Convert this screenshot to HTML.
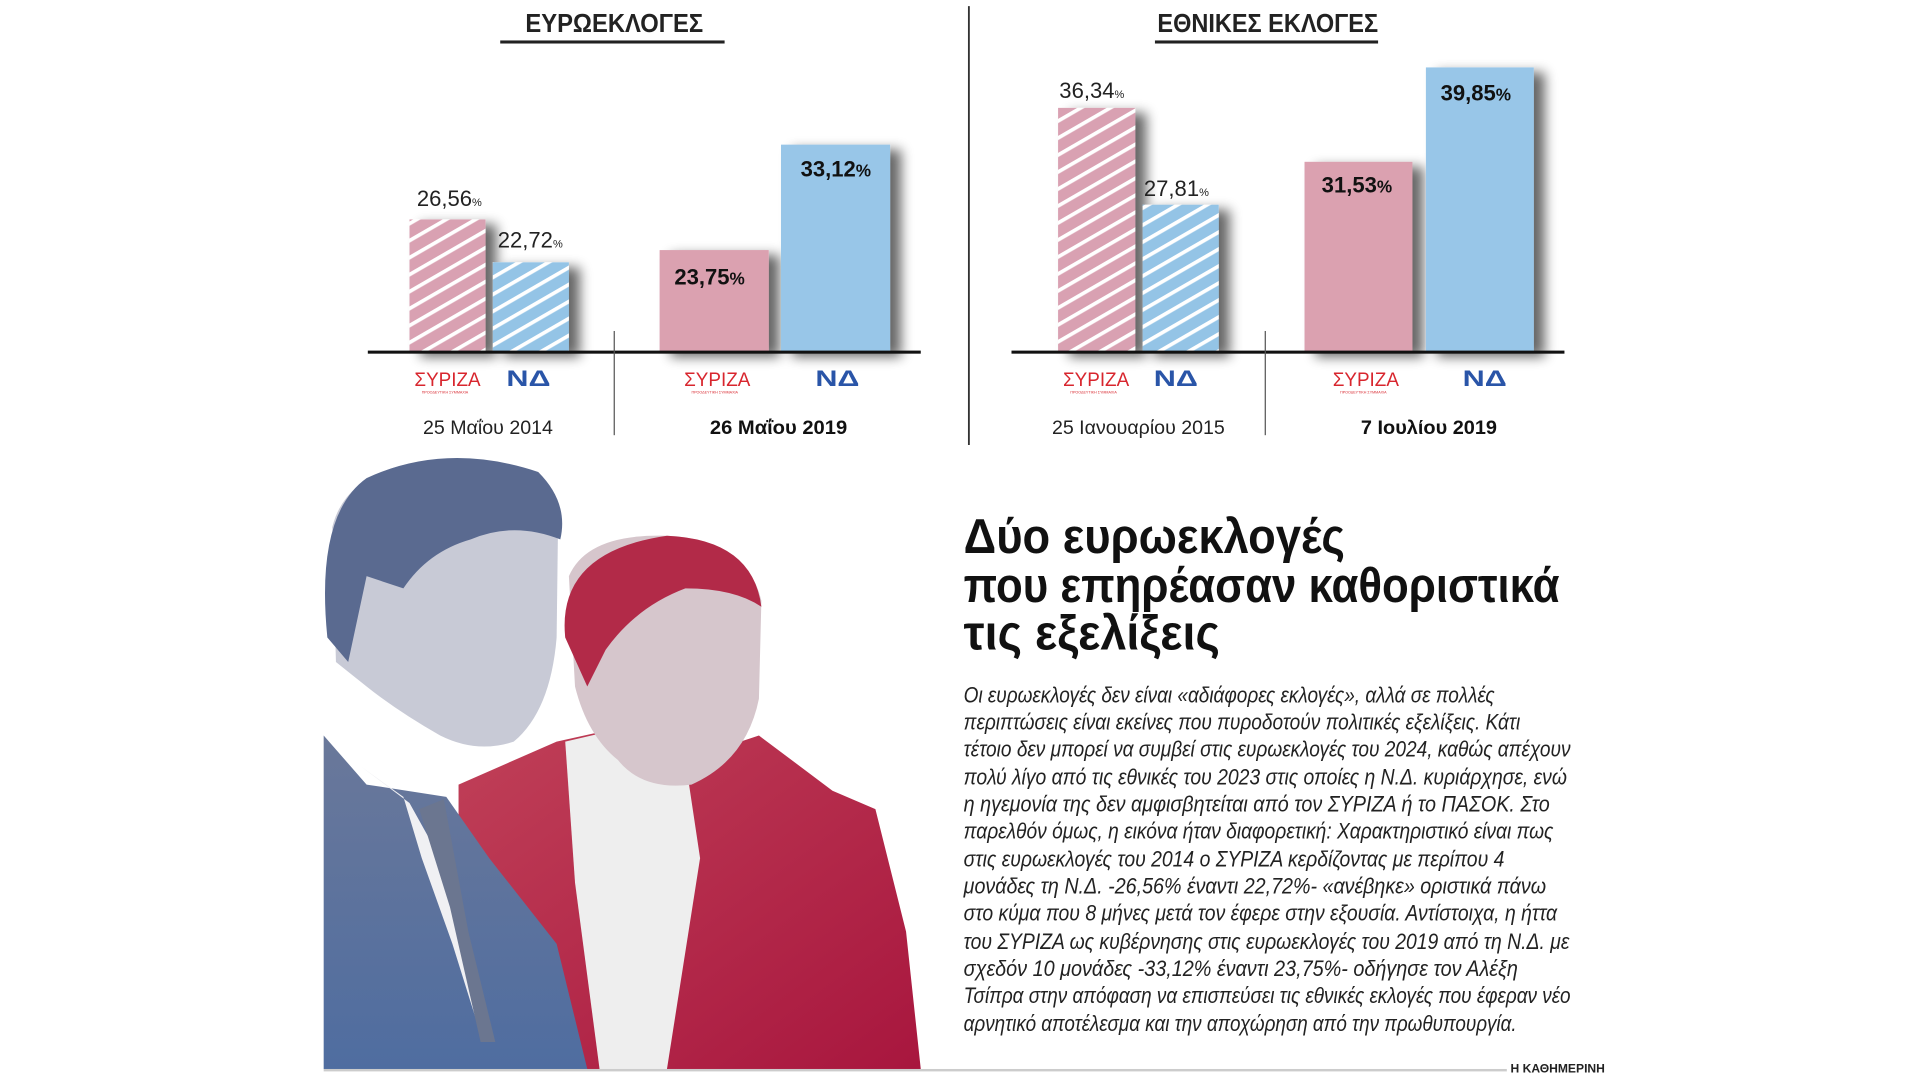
<!DOCTYPE html>
<html><head><meta charset="utf-8"><style>
html,body{margin:0;padding:0;background:#fff;width:1920px;height:1080px;overflow:hidden}
svg{display:block}
text{font-family:"Liberation Sans",sans-serif}
.b{font-family:"Liberation Sans",sans-serif;font-weight:bold}
.it{font-family:"Liberation Serif",serif;font-style:italic;font-size:18px;fill:#222}
</style></head><body>
<svg width="1920" height="1080" viewBox="1 0 1566 881" preserveAspectRatio="none" xmlns="http://www.w3.org/2000/svg">
<defs>
<pattern id="hp" patternUnits="userSpaceOnUse" width="12" height="12" patternTransform="rotate(-30)">
<rect width="12" height="12" fill="#d9a1b2"/><rect y="0" width="12" height="3" fill="#fff"/></pattern>
<pattern id="hb" patternUnits="userSpaceOnUse" width="12" height="12" patternTransform="rotate(-30)">
<rect width="12" height="12" fill="#94c4e6"/><rect y="0" width="12" height="3" fill="#fff"/></pattern>
<filter id="sh" x="-30%" y="-10%" width="170%" height="130%"><feGaussianBlur in="SourceAlpha" stdDeviation="5"/><feOffset dx="9" dy="4"/><feComponentTransfer><feFuncA type="linear" slope="0.6"/></feComponentTransfer><feMerge><feMergeNode/><feMergeNode in="SourceGraphic"/></feMerge></filter>
<linearGradient id="bs" x1="0" y1="0" x2="0" y2="1"><stop offset="0" stop-color="#6a789a"/><stop offset="1" stop-color="#4f6da0"/></linearGradient>
<linearGradient id="rs" x1="0" y1="0" x2="1" y2="1"><stop offset="0" stop-color="#c04058"/><stop offset="1" stop-color="#a8163e"/></linearGradient>
</defs>

<text x="502" y="26" text-anchor="middle" class="b" font-size="21" fill="#222" textLength="145" lengthAdjust="spacingAndGlyphs">ΕΥΡΩΕΚΛΟΓΕΣ</text>
<rect x="409" y="33" width="183" height="2.5" fill="#222"/>
<text x="1035" y="26" text-anchor="middle" class="b" font-size="21" fill="#222" textLength="180" lengthAdjust="spacingAndGlyphs">ΕΘΝΙΚΕΣ ΕΚΛΟΓΕΣ</text>
<rect x="943" y="33" width="182" height="2.5" fill="#222"/>
<rect x="790.5" y="5" width="1.5" height="358" fill="#333"/>

<g filter="url(#sh)">
<rect x="335" y="179" width="62" height="108" fill="url(#hp)"/>
<rect x="403" y="214" width="62" height="73" fill="url(#hb)"/>
<rect x="539" y="204" width="89" height="83" fill="#dba1b0"/>
<rect x="638" y="118" width="89" height="169" fill="#98c6e8"/>
<rect x="864" y="88" width="63" height="199" fill="url(#hp)"/>
<rect x="933" y="167" width="62" height="120" fill="url(#hb)"/>
<rect x="1065" y="132" width="88" height="155" fill="#dba1b0"/>
<rect x="1164" y="55" width="88" height="232" fill="#98c6e8"/>
</g>
<rect x="301" y="286" width="451" height="2.5" fill="#111"/>
<rect x="826" y="286" width="451" height="2.5" fill="#111"/>
<rect x="501.5" y="270" width="1" height="85" fill="#555"/>
<rect x="1032.5" y="270" width="1" height="85" fill="#555"/>

<g font-size="18" fill="#222">
<text x="341" y="168">26,56<tspan font-size="9">%</tspan></text>
<text x="407" y="202">22,72<tspan font-size="9">%</tspan></text>
<text x="865" y="80">36,34<tspan font-size="9">%</tspan></text>
<text x="934" y="160">27,81<tspan font-size="9">%</tspan></text>
</g>
<g font-size="18" fill="#111" class="b">
<text x="551" y="232">23,75<tspan font-size="14">%</tspan></text>
<text x="654" y="144">33,12<tspan font-size="14">%</tspan></text>
<text x="1079" y="157">31,53<tspan font-size="14">%</tspan></text>
<text x="1176" y="82">39,85<tspan font-size="14">%</tspan></text>
</g>

<g font-size="16" fill="#d8262e">
<text x="339" y="315" textLength="54" lengthAdjust="spacingAndGlyphs">ΣΥΡΙΖΑ</text>
<text x="559" y="315" textLength="54" lengthAdjust="spacingAndGlyphs">ΣΥΡΙΖΑ</text>
<text x="868" y="315" textLength="54" lengthAdjust="spacingAndGlyphs">ΣΥΡΙΖΑ</text>
<text x="1088" y="315" textLength="54" lengthAdjust="spacingAndGlyphs">ΣΥΡΙΖΑ</text>
</g>
<g font-size="3" fill="#d8262e">
<text x="345" y="321">ΠΡΟΟΔΕΥΤΙΚΗ ΣΥΜΜΑΧΙΑ</text><text x="565" y="321">ΠΡΟΟΔΕΥΤΙΚΗ ΣΥΜΜΑΧΙΑ</text>
<text x="874" y="321">ΠΡΟΟΔΕΥΤΙΚΗ ΣΥΜΜΑΧΙΑ</text><text x="1094" y="321">ΠΡΟΟΔΕΥΤΙΚΗ ΣΥΜΜΑΧΙΑ</text>
</g>
<g font-size="18" fill="#2a55a8" class="b">
<text x="414" y="315" textLength="36" lengthAdjust="spacingAndGlyphs">ΝΔ</text>
<text x="666" y="315" textLength="36" lengthAdjust="spacingAndGlyphs">ΝΔ</text>
<text x="942" y="315" textLength="36" lengthAdjust="spacingAndGlyphs">ΝΔ</text>
<text x="1194" y="315" textLength="36" lengthAdjust="spacingAndGlyphs">ΝΔ</text>
</g>

<text x="346" y="354" font-size="16" fill="#222" textLength="106" lengthAdjust="spacingAndGlyphs">25 Μαΐου 2014</text>
<text x="580" y="354" font-size="16" fill="#111" class="b" textLength="112" lengthAdjust="spacingAndGlyphs">26 Μαΐου 2019</text>
<text x="859" y="354" font-size="16" fill="#222" textLength="141" lengthAdjust="spacingAndGlyphs">25 Ιανουαρίου 2015</text>
<text x="1111" y="354" font-size="16" fill="#111" class="b" textLength="111" lengthAdjust="spacingAndGlyphs">7 Ιουλίου 2019</text>

<!-- red man -->
<path d="M375,640 L455,605 L500,595 L560,620 L620,600 L680,645 L715,660 L740,760 L752,872 L375,872 Z" fill="url(#rs)"/>
<path d="M462,605 L505,595 L560,620 L572,700 L545,872 L490,872 L470,720 Z" fill="#eee"/>
<path d="M465,470 Q480,435 545,437 Q610,440 622,490 L620,570 Q610,620 565,640 Q525,645 505,620 Q480,600 470,560 Z" fill="#d6c6cc"/>
<path d="M462,520 Q455,450 545,437 Q615,440 622,495 Q600,480 560,480 Q520,495 495,530 L480,560 Z" fill="#b22a48"/>
<!-- blue man -->
<path d="M265,600 L300,640 L365,650 L400,700 L455,770 L480,872 L265,872 Z" fill="url(#bs)"/>
<path d="M295,625 L330,650 L345,700 L370,770 L395,850 L360,700 L335,655 Z" fill="#f0f0f3"/>
<path d="M343,660 L363,652 L383,760 L405,850 L393,850 L368,740 Z" fill="#6b7690"/>
<path d="M272,430 Q285,378 365,375 Q440,378 456,440 L455,520 Q450,580 420,605 Q390,615 360,600 Q325,580 300,560 L275,540 Z" fill="#c8cad6"/>
<path d="M268,520 Q258,420 300,390 Q365,360 440,385 Q465,410 458,440 Q420,425 385,440 Q350,450 330,480 L300,470 L285,540 Z" fill="#5a6a90"/>
<rect x="265" y="872" width="965" height="2" fill="#ccc"/>

<g class="b" font-size="40" fill="#111">
<text x="787" y="451" textLength="311" lengthAdjust="spacingAndGlyphs">Δύο ευρωεκλογές</text>
<text x="787" y="491" textLength="486" lengthAdjust="spacingAndGlyphs">που επηρέασαν καθοριστικά</text>
<text x="787" y="530" textLength="209" lengthAdjust="spacingAndGlyphs">τις εξελίξεις</text>
</g>
<g class="it">
<text x="787" y="573" textLength="433" lengthAdjust="spacingAndGlyphs">Οι ευρωεκλογές δεν είναι «αδιάφορες εκλογές», αλλά σε πολλές</text>
<text x="787" y="595" textLength="454" lengthAdjust="spacingAndGlyphs">περιπτώσεις είναι εκείνες που πυροδοτούν πολιτικές εξελίξεις. Κάτι</text>
<text x="787" y="617" textLength="495" lengthAdjust="spacingAndGlyphs">τέτοιο δεν μπορεί να συμβεί στις ευρωεκλογές του 2024, καθώς απέχουν</text>
<text x="787" y="640" textLength="492" lengthAdjust="spacingAndGlyphs">πολύ λίγο από τις εθνικές του 2023 στις οποίες η Ν.Δ. κυριάρχησε, ενώ</text>
<text x="787" y="662" textLength="478" lengthAdjust="spacingAndGlyphs">η ηγεμονία της δεν αμφισβητείται από τον ΣΥΡΙΖΑ ή το ΠΑΣΟΚ. Στο</text>
<text x="787" y="684" textLength="481" lengthAdjust="spacingAndGlyphs">παρελθόν όμως, η εικόνα ήταν διαφορετική: Χαρακτηριστικό είναι πως</text>
<text x="787" y="707" textLength="441" lengthAdjust="spacingAndGlyphs">στις ευρωεκλογές του 2014 ο ΣΥΡΙΖΑ κερδίζοντας με περίπου 4</text>
<text x="787" y="729" textLength="475" lengthAdjust="spacingAndGlyphs">μονάδες τη Ν.Δ. -26,56% έναντι 22,72%- «ανέβηκε» οριστικά πάνω</text>
<text x="787" y="751" textLength="484" lengthAdjust="spacingAndGlyphs">στο κύμα που 8 μήνες μετά τον έφερε στην εξουσία. Αντίστοιχα, η ήττα</text>
<text x="787" y="774" textLength="494" lengthAdjust="spacingAndGlyphs">του ΣΥΡΙΖΑ ως κυβέρνησης στις ευρωεκλογές του 2019 από τη Ν.Δ. με</text>
<text x="787" y="796" textLength="452" lengthAdjust="spacingAndGlyphs">σχεδόν 10 μονάδες -33,12% έναντι 23,75%- οδήγησε τον Αλέξη</text>
<text x="787" y="818" textLength="495" lengthAdjust="spacingAndGlyphs">Τσίπρα στην απόφαση να επισπεύσει τις εθνικές εκλογές που έφεραν νέο</text>
<text x="787" y="841" textLength="451" lengthAdjust="spacingAndGlyphs">αρνητικό αποτέλεσμα και την αποχώρηση από την πρωθυπουργία.</text>
</g>
<text x="1233" y="875" font-size="10" class="b" fill="#222" textLength="77" lengthAdjust="spacingAndGlyphs">Η ΚΑΘΗΜΕΡΙΝΗ</text>
</svg>
</body></html>
